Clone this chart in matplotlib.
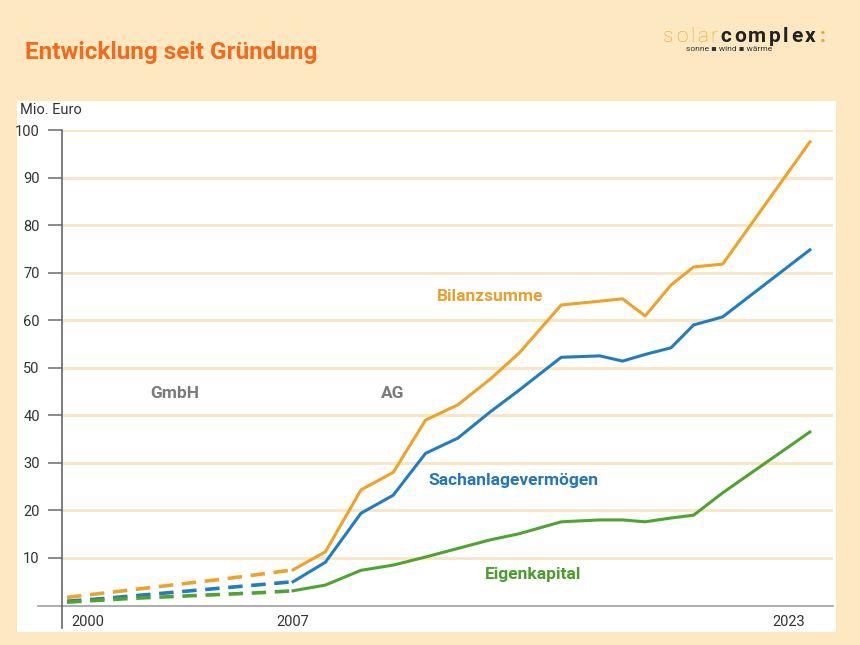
import matplotlib
matplotlib.use("Agg")
import matplotlib.pyplot as plt
from matplotlib.patches import Rectangle
from matplotlib.lines import Line2D

# estimated early years (dashed, GmbH period)
years_est = [2000, 2001, 2002, 2003, 2004, 2005, 2006, 2007]
bilanz_est = [1.7, 2.5, 3.3, 4.1, 4.9, 5.7, 6.6, 7.5]
sach_est = [0.9, 1.4, 2.0, 2.6, 3.2, 3.8, 4.4, 5.0]
eigen_est = [0.7, 1.1, 1.5, 1.8, 2.1, 2.4, 2.7, 3.1]

# AG period (solid), positions
years = [2007.0, 2008.0, 2009.1, 2010.1, 2011.1, 2012.1, 2013.1, 2014.0,
         2015.3, 2016.5, 2017.2, 2017.9, 2018.7, 2019.4, 2020.3, 2023.0]
bilanz = [7.5, 11.3, 24.3, 28.0, 39.0, 42.2, 47.6, 53.1,
          63.2, 64.0, 64.5, 60.9, 67.4, 71.2, 71.8, 97.5]
sach = [5.0, 9.1, 19.4, 23.2, 32.0, 35.2, 40.7, 45.3,
        52.2, 52.5, 51.4, 52.8, 54.2, 59.0, 60.7, 74.8]
eigen = [3.1, 4.3, 7.4, 8.5, 10.2, 12.0, 13.8, 15.1,
         17.6, 18.0, 18.0, 17.6, 18.4, 19.0, 23.7, 36.5]

yticks = [10, 20, 30, 40, 50, 60, 70, 80, 90, 100]

BG = "#FDE8C1"
ORANGE = "#EFA224"
BLUE = "#1F7DC2"
GREEN = "#4DA52E"
GRID = "#FAE6C4"
FONT = ["Roboto", "DejaVu Sans"]

W, H = 860, 645
fig = plt.figure(figsize=(8.6, 6.45), dpi=100, facecolor=BG)
renderer = fig.canvas.get_renderer()


def spaced_text(x, y, s, gap, **kw):
    # draw a word letter by letter with extra spacing (pixels)
    for ch in s:
        t = fig.text(x / W, 1 - y / H, ch, ha="left", va="baseline", **kw)
        x += t.get_window_extent(renderer).width + gap
    return x


# white panel
fig.patches.append(Rectangle((17 / W, 1 - 632 / H), (836 - 17) / W, (632 - 101) / H,
                             transform=fig.transFigure, facecolor="white",
                             edgecolor="none", zorder=-5))

# axes: left edge = y axis line (x=62px), right edge 833px, bottom 628px, top 130px
ax = fig.add_axes([62 / W, 1 - 628 / H, (833 - 62) / W, (628 - 130) / H])
ax.set_zorder(2)
ax.set_facecolor("none")
ax.set_xlim(1999.845, 2023.715)
ax.set_ylim(-4.73, 100)

for s in ["top", "right", "bottom"]:
    ax.spines[s].set_visible(False)
ax.spines["left"].set_color("#666666")
ax.spines["left"].set_linewidth(1.2)
ax.set_xticks([])
ax.set_yticks(yticks)
ax.tick_params(axis="y", direction="out", length=10, width=1.2, color="#777777",
               pad=6, labelsize=10.5, labelcolor="#333333")
for lab in ax.get_yticklabels():
    lab.set_family(FONT)
for v in yticks:
    ax.axhline(v, color=GRID, lw=2.2, zorder=1)

# baseline extending left of the y axis
ax.add_line(Line2D([-0.031, 1.0], [0, 0], transform=ax.get_yaxis_transform(),
                   color="#A0A0A0", lw=1.2, clip_on=False, zorder=2))

dash = (4.0, 2.4)
ax.plot(years_est, bilanz_est, color=ORANGE, lw=2.6, dashes=dash, zorder=3)
ax.plot(years_est, sach_est, color=BLUE, lw=2.6, dashes=dash, zorder=3)
ax.plot(years_est, eigen_est, color=GREEN, lw=2.6, dashes=dash, zorder=3)
ax.plot(years, bilanz, color=ORANGE, lw=2.2, zorder=3)
ax.plot(years, sach, color=BLUE, lw=2.2, zorder=3)
ax.plot(years, eigen, color=GREEN, lw=2.2, zorder=3)

# year labels
ax.text(2000.15, -3.5, "2000", ha="left", va="center", fontsize=10.5, color="#333333", family=FONT)
ax.text(2007.0, -3.5, "2007", ha="center", va="center", fontsize=10.5, color="#333333", family=FONT)
ax.text(2022.85, -3.5, "2023", ha="right", va="center", fontsize=10.5, color="#333333", family=FONT)

# series / period labels
ax.text(2011.45, 64.9, "Bilanzsumme", color="#E9A02A", fontsize=12.5, fontweight="bold",
        va="center", family=FONT)
ax.text(2011.18, 26.2, "Sachanlagevermögen", color="#2276BD", fontsize=12.5, fontweight="bold",
        va="center", family=FONT)
ax.text(2012.94, 6.6, "Eigenkapital", color="#4A9C2C", fontsize=12.5, fontweight="bold",
        va="center", family=FONT)
ax.text(2002.57, 44.5, "GmbH", color="#7A7A7A", fontsize=12.5, fontweight="bold",
        va="center", family=FONT)
ax.text(2009.72, 44.5, "AG", color="#7A7A7A", fontsize=12.5, fontweight="bold",
        va="center", family=FONT)

fig.text(20 / W, 1 - 110 / H, "Mio. Euro", fontsize=10.5, color="#333333",
         va="center", ha="left", family=FONT)

# title
fig.text(25 / W, 1 - 52 / H, "Entwicklung seit Gründung", fontsize=17.5, fontweight="bold",
         color="#F26A1B", va="center", ha="left", family=FONT)

# logo
x_end = spaced_text(663, 42, "solar", 2.5, fontsize=15, color="#EFA224",
                    family=FONT, fontweight="light")
x_end = spaced_text(x_end + 1, 42, "complex", 2.5, fontsize=15, color="#222222",
                    family=FONT, fontweight="bold")
spaced_text(x_end + 2, 42, ":", 0, fontsize=15, color="#EFA224",
            family=FONT, fontweight="bold")
fig.text(729 / W, 1 - 49 / H, "sonne \u25aa wind \u25aa wärme", fontsize=6, color="#333333",
         ha="center", va="center", family=FONT)

fig.savefig("out.png", dpi=100, facecolor=BG)
